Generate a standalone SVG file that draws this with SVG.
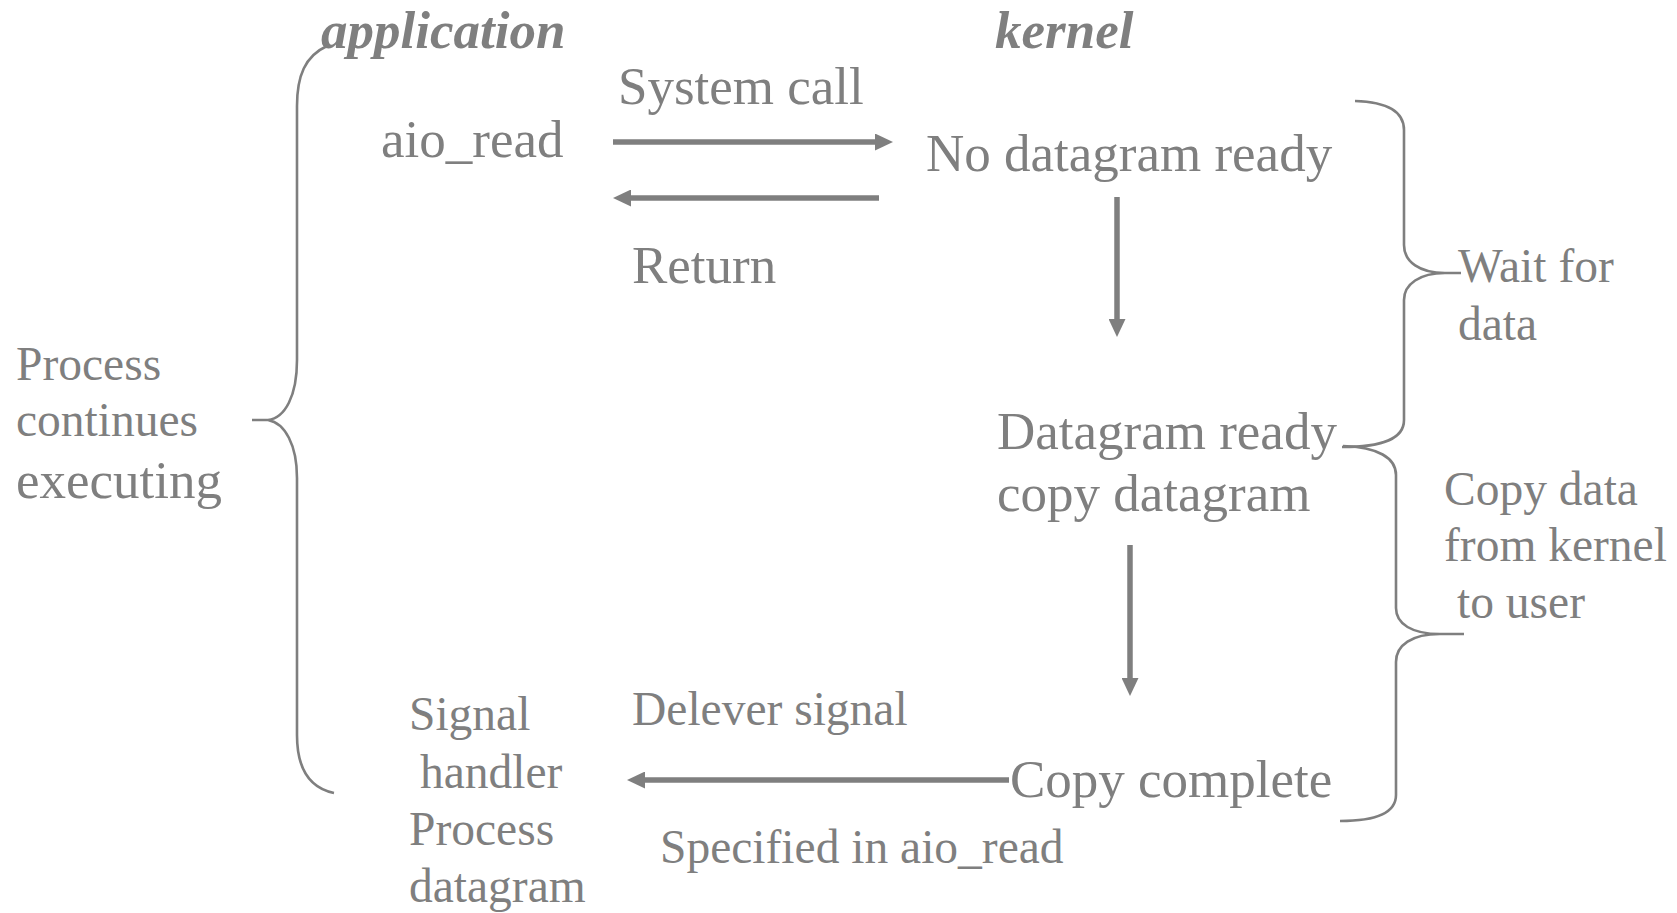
<svg xmlns="http://www.w3.org/2000/svg" width="1677" height="913" viewBox="0 0 1677 913">
<style>
text{font-family:"Liberation Serif","Times New Roman",serif;fill:#7f7f7f}
.l{font-size:53px}
.s{font-size:47.5px}
.h{font-size:53px;font-weight:bold;font-style:italic}
.brace{fill:none;stroke:#7f7f7f;stroke-width:2.6}
.arr{fill:none;stroke:#7f7f7f;stroke-width:5.5;marker-end:url(#ah)}
</style>
<defs>
<marker id="ah" markerUnits="userSpaceOnUse" markerWidth="18" markerHeight="17" refX="6" refY="8.5" orient="auto">
<path d="M0,0 L18,8.5 L0,17 z" fill="#7f7f7f"/>
</marker>
</defs>
<rect width="1677" height="913" fill="#fff"/>
<g id="application-header"><text class="h" x="321" y="48">application</text></g>
<g id="kernel-header"><text class="h" x="995" y="48">kernel</text></g>
<g id="aio-read"><text class="l" x="381" y="157">aio_read</text></g>
<g id="no-datagram-ready"><text class="l" x="926" y="171">No datagram ready</text></g>
<g id="datagram-ready"><text class="l" x="997" y="449">Datagram ready</text><text class="l" x="997" y="511">copy datagram</text></g>
<g id="copy-complete"><text class="l" x="1010" y="797">Copy complete</text></g>
<g id="signal-handler"><text class="s" x="409" y="730">Signal</text><text class="s" x="420" y="788">handler</text><text class="s" x="409" y="845">Process</text><text class="s" x="409" y="902">datagram</text></g>
<g id="process-continues">
<path class="brace" d="M327,46 C305,56 297,76 297,106 L297,360 C297,396 285,418 268,420 L252,420 M268,420 C285,423 297,445 297,478 L297,735 C297,770 310,788 334,793"/>
<text class="s" x="16" y="380">Process</text><text class="s" x="16" y="436">continues</text><text class="l" x="16" y="498">executing</text>
</g>
<g id="wait-for-data">
<path class="brace" d="M1355,101 C1387,102 1404,112 1404,130 L1404,245 C1404,262 1420,273 1445,273 L1461,273 M1445,273 C1420,273 1404,284 1404,300 L1404,420 C1404,438 1385,447 1342,447"/>
<text class="s" x="1458" y="282">Wait for</text><text class="s" x="1458" y="340">data</text>
</g>
<g id="copy-data">
<path class="brace" d="M1343,446 C1378,447 1396,458 1396,475 L1396,608 C1396,624 1412,634 1440,634 L1464,634 M1440,634 C1412,634 1396,645 1396,662 L1396,795 C1396,812 1378,821 1340,821"/>
<text class="s" x="1444" y="505">Copy data</text><text class="s" x="1444" y="561">from kernel</text><text class="s" x="1457" y="618">to user</text>
</g>
<g id="connectors">
<line class="arr" x1="613" y1="142" x2="881" y2="142"/>
<line class="arr" x1="879" y1="198" x2="625" y2="198"/>
<line class="arr" x1="1117" y1="197" x2="1117" y2="325"/>
<line class="arr" x1="1130" y1="545" x2="1130" y2="684"/>
<line class="arr" x1="1009" y1="780" x2="639" y2="780"/>
<text class="l" x="618" y="104">System call</text>
<text class="l" x="632" y="283">Return</text>
<text class="s" x="632" y="725">Delever signal</text>
<text class="s" x="660" y="863">Specified in aio_read</text>
</g>
</svg>
